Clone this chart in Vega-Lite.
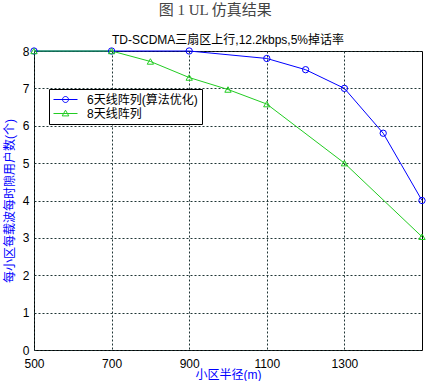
{
  "$schema": "https://vega.github.io/schema/vega-lite/v6.json",
  "background": "white",
  "padding": {"left": 2, "top": 2, "right": 5, "bottom": 0},
  "title": {
    "text": "图 1 UL 仿真结果",
    "anchor": "middle",
    "font": "Liberation Serif, Noto Sans CJK SC",
    "fontSize": 15,
    "fontWeight": "normal",
    "color": "#444444",
    "offset": 16
  },
  "config": {
    "font": "Liberation Sans, Noto Sans CJK SC",
    "view": {"stroke": "black", "strokeWidth": 1},
    "axis": {
      "domain": false,
      "ticks": false,
      "grid": true,
      "gridColor": "#1f3535",
      "gridDash": [2, 2],
      "gridOpacity": 1,
      "gridWidth": 1,
      "labelFlush": false,
      "format": "d",
      "labelFont": "Liberation Sans",
      "labelFontSize": 12,
      "labelColor": "black",
      "titleFont": "Liberation Sans, Noto Sans CJK SC",
      "titleFontSize": 12,
      "titleFontWeight": "normal",
      "titleColor": "#0000ff"
    },
    "legend": {
      "orient": "none",
      "legendX": 15,
      "legendY": 38,
      "strokeColor": "black",
      "fillColor": "white",
      "padding": 4,
      "labelFont": "Liberation Sans, Noto Sans CJK SC",
      "labelFontSize": 12,
      "labelColor": "black",
      "symbolSize": 144,
      "symbolStrokeWidth": 1,
      "rowPadding": 1,
      "labelOffset": 21
    }
  },
  "vconcat": [
    {
      "width": 388,
      "height": 299,
      "title": {
        "text": "TD-SCDMA三扇区上行,12.2kbps,5%掉话率",
        "anchor": "middle",
        "font": "Liberation Sans, Noto Sans CJK SC",
        "fontSize": 12,
        "fontWeight": "normal",
        "color": "black",
        "offset": -2
      },
      "data": {
        "values": [
          {"r": 500, "n": 8, "s": "6天线阵列(算法优化)"},
          {"r": 700, "n": 8, "s": "6天线阵列(算法优化)"},
          {"r": 900, "n": 8, "s": "6天线阵列(算法优化)"},
          {"r": 1100, "n": 7.8, "s": "6天线阵列(算法优化)"},
          {"r": 1200, "n": 7.5, "s": "6天线阵列(算法优化)"},
          {"r": 1300, "n": 7.0, "s": "6天线阵列(算法优化)"},
          {"r": 1400, "n": 5.8, "s": "6天线阵列(算法优化)"},
          {"r": 1500, "n": 4.0, "s": "6天线阵列(算法优化)"},
          {"r": 500, "n": 8, "s": "8天线阵列"},
          {"r": 700, "n": 8, "s": "8天线阵列"},
          {"r": 800, "n": 7.72, "s": "8天线阵列"},
          {"r": 900, "n": 7.29, "s": "8天线阵列"},
          {"r": 1000, "n": 6.97, "s": "8天线阵列"},
          {"r": 1100, "n": 6.58, "s": "8天线阵列"},
          {"r": 1300, "n": 5.0, "s": "8天线阵列"},
          {"r": 1500, "n": 3.03, "s": "8天线阵列"}
        ]
      },
      "encoding": {
        "x": {
          "field": "r",
          "type": "quantitative",
          "scale": {"domain": [500, 1500], "nice": false},
          "axis": {
            "values": [500, 700, 900, 1100, 1300],
            "title": "小区半径(m)",
            "labelPadding": 8,
            "titlePadding": 0
          }
        },
        "y": {
          "field": "n",
          "type": "quantitative",
          "scale": {"domain": [0, 8], "nice": false},
          "axis": {
            "values": [0, 1, 2, 3, 4, 5, 6, 7, 8],
            "title": "每小区每载波每时隙用户数(个)",
            "labelPadding": 5,
            "titlePadding": 6
          }
        },
        "color": {
          "field": "s",
          "type": "nominal",
          "scale": {
            "domain": ["6天线阵列(算法优化)", "8天线阵列"],
            "range": ["#0000ff", "#22cc22"]
          },
          "legend": {
            "title": null,
            "encode": {
              "symbols": {
                "update": {
                  "shape": {
                    "signal": "datum.value == '8天线阵列' ? 'M-1,0H3M1,-0.55L1.55,0.4L0.45,0.4Z' : 'M-1,0H3M0.5,0A0.5,0.5,0,1,1,1.5,0A0.5,0.5,0,1,1,0.5,0'"
                  },
                  "fill": {"value": "transparent"}
                }
              }
            }
          }
        }
      },
      "layer": [
        {
          "mark": {"type": "line", "strokeWidth": 1, "clip": false}
        },
        {
          "transform": [{"filter": "datum.s == '6天线阵列(算法优化)'"}],
          "mark": {"type": "point", "shape": "circle", "filled": false, "size": 40, "strokeWidth": 1, "opacity": 1, "clip": false}
        },
        {
          "transform": [{"filter": "datum.s == '8天线阵列'"}],
          "mark": {"type": "point", "shape": "triangle-up", "filled": false, "size": 40, "strokeWidth": 1, "opacity": 1, "clip": false}
        }
      ]
    }
  ]
}
